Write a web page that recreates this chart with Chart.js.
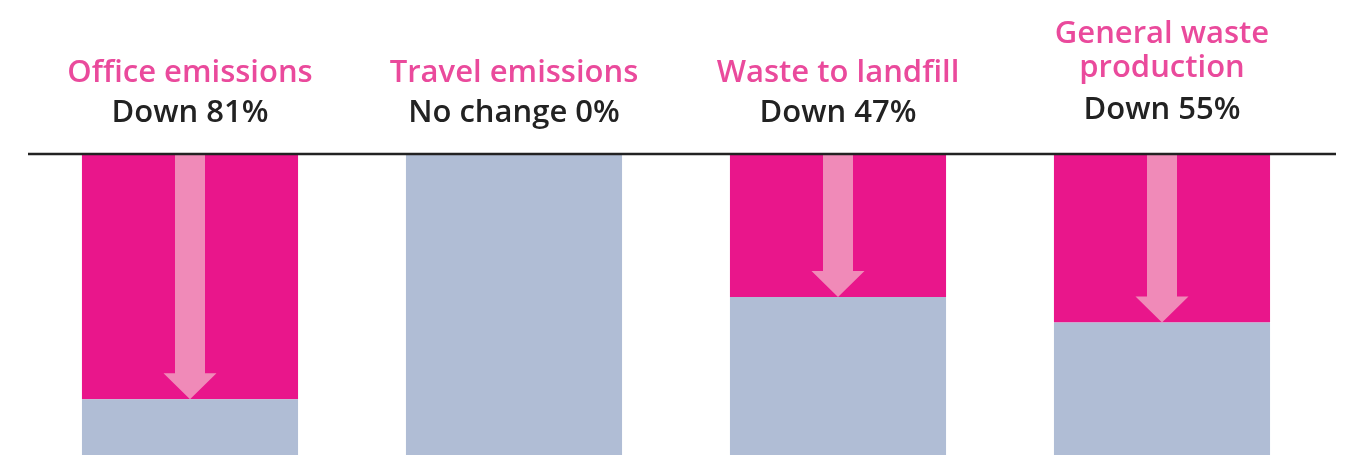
<!DOCTYPE html>
<html>
<head>
<meta charset="utf-8">
<script src="https://cdn.jsdelivr.net/npm/chart.js@4"></script>
<style>
  html, body { margin: 0; padding: 0; background: #fff; }
  #wrap { width: 1348px; height: 455px; position: relative; }
</style>
</head>
<body>
<div id="wrap"><canvas id="chart"></canvas></div>
<script>
const categories = [["Office emissions"], ["Travel emissions"], ["Waste to landfill"], ["General waste", "production"]];
const changeLabels = ["Down 81%", "No change 0%", "Down 47%", "Down 55%"];
const remaining = [18.5, 100, 52.5, 44];
const reduction = [81.5, 0, 47.5, 56];

const PINK = "#e9168b";
const GREY = "#b0bdd5";
const ARROW = "#f08ab8";
const FONT = "'Open Sans', sans-serif";

// headings above each bar
const headingsPlugin = {
  id: "headings",
  afterDraw(chart) {
    const ctx = chart.ctx;
    const xs = chart.scales.x;
    ctx.save();
    ctx.textAlign = "center";
    ctx.textBaseline = "middle";
    categories.forEach((lines, i) => {
      const x = xs.getPixelForValue(i);
      const n = lines.length;
      const titleY = n > 1 ? 34 : 73;
      ctx.fillStyle = "#ea4a9c";
      ctx.font = "600 31px " + FONT;
      lines.forEach((t, j) => ctx.fillText(t, x, titleY + j * 34));
      ctx.fillStyle = "#222";
      ctx.font = "600 31px " + FONT;
      ctx.fillText(changeLabels[i], x, n > 1 ? 110 : 113);
    });
    ctx.restore();
  }
};

// top rule and down arrows
const arrowsPlugin = {
  id: "arrows",
  afterDatasetsDraw(chart) {
    const ctx = chart.ctx;
    const ys = chart.scales.y;
    const meta = chart.getDatasetMeta(0);
    const top = ys.getPixelForValue(100);
    ctx.save();
    ctx.fillStyle = ARROW;
    reduction.forEach((r, i) => {
      if (!r) return;
      const x = meta.data[i].x;
      const tip = ys.getPixelForValue(remaining[i]);
      const headH = 26, headW = 53, shaftW = 30;
      ctx.beginPath();
      ctx.moveTo(x - shaftW / 2, top);
      ctx.lineTo(x + shaftW / 2, top);
      ctx.lineTo(x + shaftW / 2, tip - headH);
      ctx.lineTo(x + headW / 2, tip - headH);
      ctx.lineTo(x, tip);
      ctx.lineTo(x - headW / 2, tip - headH);
      ctx.lineTo(x - shaftW / 2, tip - headH);
      ctx.closePath();
      ctx.fill();
    });
    ctx.strokeStyle = "#222";
    ctx.lineWidth = 2.5;
    ctx.beginPath();
    ctx.moveTo(28, top);
    ctx.lineTo(1336, top);
    ctx.stroke();
    ctx.restore();
  }
};

new Chart(document.getElementById("chart"), {
  type: "bar",
  data: {
    labels: categories.map(c => c.join(" ")),
    datasets: [
      { label: "Remaining", data: remaining, backgroundColor: GREY, borderWidth: 0 },
      { label: "Reduction", data: reduction, backgroundColor: PINK, borderWidth: 0 }
    ]
  },
  options: {
    responsive: true,
    maintainAspectRatio: false,
    animation: false,
    devicePixelRatio: 1,
    layout: { padding: { top: 154, left: 28, right: 24, bottom: 0 } },
    datasets: { bar: { categoryPercentage: 1, barPercentage: 0.667 } },
    scales: {
      x: { stacked: true, display: false },
      y: { stacked: true, display: false, min: 0, max: 100 }
    },
    plugins: {
      legend: { display: false },
      tooltip: { enabled: false }
    }
  },
  plugins: [arrowsPlugin, headingsPlugin]
});
</script>
</body>
</html>
